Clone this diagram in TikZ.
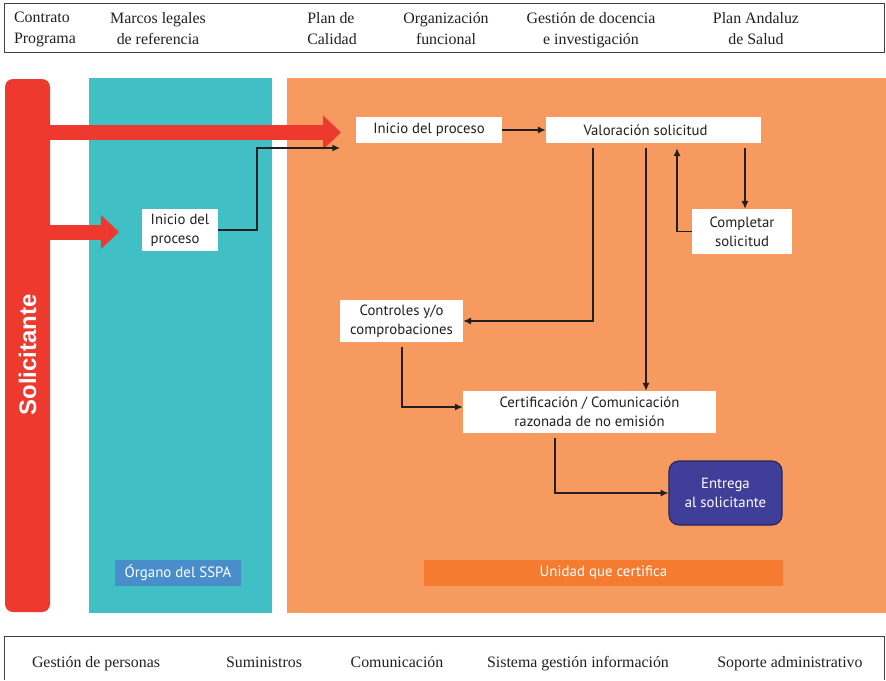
\documentclass[tikz,border=0pt]{standalone}
\usepackage{fontspec}
\setmainfont{Liberation Serif}
\setsansfont{PT Sans}
\newfontfamily\solfont{Liberation Sans}
\usetikzlibrary{arrows.meta}

\definecolor{solred}{HTML}{EE3A2E}
\definecolor{sspateal}{HTML}{40C0C4}
\definecolor{unitorange}{HTML}{F79A60}
\definecolor{tagorange}{HTML}{F47B30}
\definecolor{tagblue}{HTML}{4A8DCB}
\definecolor{deliverblue}{HTML}{3F3F9A}
\definecolor{inkgray}{HTML}{231F20}

\begin{document}
\begin{tikzpicture}[x=0.025cm, y=-0.025cm,
  box/.style={fill=white, inner sep=0pt, text=inkgray, align=center,
    font=\sffamily\fontsize{10.5}{13.5}\selectfont},
  flow/.style={draw=inkgray, line width=0.9pt, -{Latex[length=5.5pt,width=5pt]}},
  gap/.style={shorten <=0.125cm},
  bigarrow/.style={draw=solred, line width=0.375cm,
    -{Triangle[length=0.45cm,width=0.825cm]}},
  toptext/.style={align=center, anchor=north, inner sep=0pt, text=inkgray,
    font=\fontsize{11.3}{15}\selectfont},
  bottext/.style={anchor=base, inner sep=0pt, text=inkgray,
    font=\fontsize{11.3}{15}\selectfont},
  tag/.style={inner sep=0pt, text=white, minimum height=0.65cm,
    font=\sffamily\fontsize{10.6}{12}\selectfont},
  frame/.style={draw=black!75, line width=0.6pt}]
\useasboundingbox (0,0) rectangle (886,680);
% Top and bottom strips
\draw[frame] (4,3) rectangle (884,52);
\draw[frame] (4,680) -- (4,636) -- (884,636) -- (884,680);
\node[toptext, align=left] (contrato) at (45,12) {Contrato\\Programa};
\node[toptext] (marcos)   at (158,12)  {Marcos legales\\de referencia};
\node[toptext, align=left] (calidad)  at (332,12)  {Plan de\\Calidad};
\node[toptext] (organiz)  at (446,12)  {Organización\\funcional};
\node[toptext] (docencia) at (591,12)  {Gestión de docencia\\e investigación};
\node[toptext] (andaluz)  at (756,12)  {Plan Andaluz\\de Salud};
\node[bottext] (personas) at (96,667)  {Gestión de personas};
\node[bottext] (sumin)    at (264,667) {Suministros};
\node[bottext] (comunic)  at (397,667) {Comunicación};
\node[bottext] (sistema)  at (578,667) {Sistema gestión información};
\node[bottext] (soporte)  at (790,667) {Soporte administrativo};
% Lanes
\fill[solred, rounded corners=0.2cm] (5,79) rectangle (50,612);
\fill[sspateal] (89,78) rectangle (272,613);
\fill[unitorange] (287,78) rectangle (886,613);
\node[rotate=90, text=white, font=\solfont\bfseries\fontsize{17}{20}\selectfont]
  (sol) at (27.5,355) {Solicitante};
\node[tag, fill=tagblue, minimum width=3.15cm] (organo) at (178,573) {Órgano del SSPA};
\node[tag, fill=tagorange, minimum width=8.975cm] (unidad) at (603.5,573) {Unidad que certifica};
% Red arrows
\coordinate (tip1) at (341,132.5);
\coordinate (tip2) at (119,232);
\draw[bigarrow] (48,132.5) -- (tip1);
\draw[bigarrow] (48,232) -- (tip2);
% Boxes
\node[box, align=left, minimum width=1.9cm, minimum height=1.05cm] (inicioA) at (180,230) {Inicio del\\proceso};
\node[box, minimum width=3.65cm, minimum height=0.65cm] (inicioB) at (429,130) {Inicio del proceso};
\node[box, minimum width=5.375cm, minimum height=0.65cm] (valor) at (653.5,130) {Valoración solicitud\hspace*{0.4cm}};
\node[box, minimum width=2.5cm, minimum height=1.125cm] (completar) at (742,231.5) {Completar\\solicitud};
\node[box, minimum width=3.075cm, minimum height=1.05cm] (controles) at (401.5,321) {Controles y/o\\comprobaciones};
\node[box, minimum width=6.325cm, minimum height=1.05cm] (certif) at (589.5,412) {Certificación / Comunicación\\razonada de no emisión};
\node[box, fill=deliverblue, draw=deliverblue!60!black, line width=0.8pt, rounded corners=0.25cm,
  text=white, minimum width=2.825cm, minimum height=1.6cm] (entrega) at (725.5,493) {Entrega\\al solicitante};
% Connectors
\coordinate (inB) at (340,148);
\draw[flow] (inicioA.east) -| (257,148) -- (inB);
\draw[flow] (inicioB) -- (valor);
\draw[flow, gap] (593,0 |- valor.south) |- (controles.east);
\draw[flow, gap] (646,0 |- valor.south) -- (646,0 |- certif.north);
\draw[flow, shorten >=0.125cm] (completar.west) -| (677,0 |- valor.south);
\draw[flow, gap] (745,0 |- valor.south) -- (745,0 |- completar.north);
\draw[flow, gap] (402,0 |- controles.south) |- ([yshift=0.125cm]certif.west);
\draw[flow, gap] (555,0 |- certif.south) |- (entrega.west);
\end{tikzpicture}
\end{document}
